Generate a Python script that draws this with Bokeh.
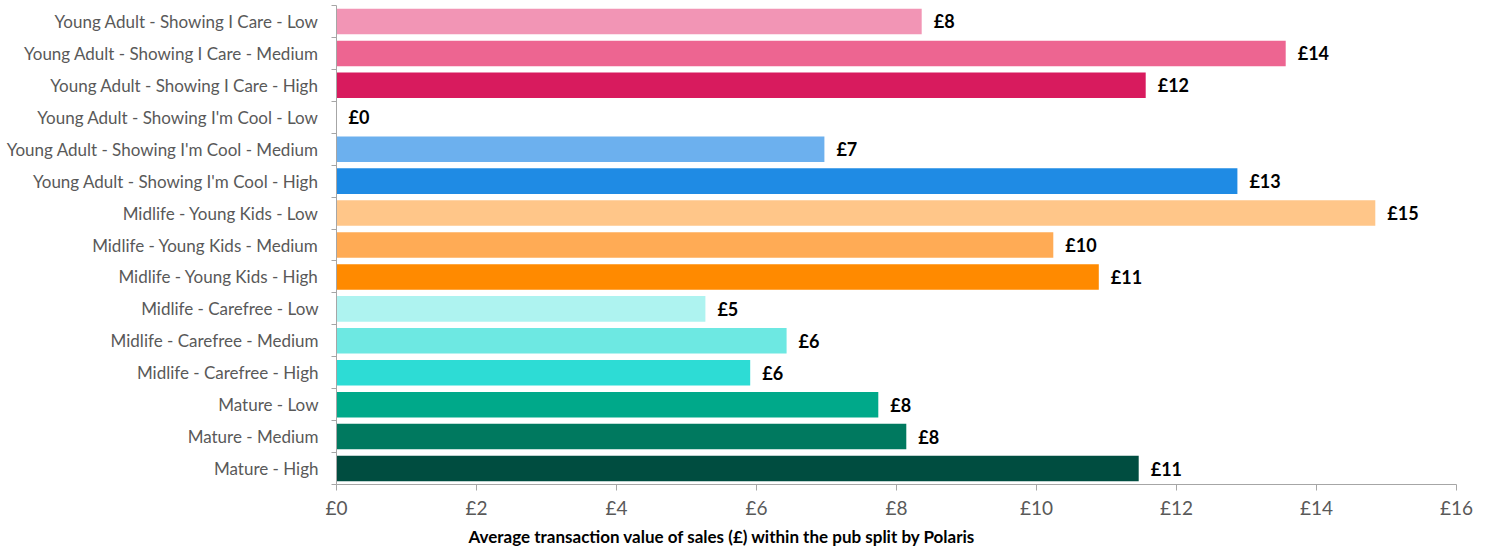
from bokeh.plotting import figure
from bokeh.models import ColumnDataSource, Range1d, FixedTicker, LabelSet, Title
from bokeh.core.properties import value
from bokeh.embed import file_html
from bokeh.resources import INLINE

categories = [
    "Young Adult - Showing I Care - Low",
    "Young Adult - Showing I Care - Medium",
    "Young Adult - Showing I Care - High",
    "Young Adult - Showing I'm Cool - Low",
    "Young Adult - Showing I'm Cool - Medium",
    "Young Adult - Showing I'm Cool - High",
    "Midlife - Young Kids - Low",
    "Midlife - Young Kids - Medium",
    "Midlife - Young Kids - High",
    "Midlife - Carefree - Low",
    "Midlife - Carefree - Medium",
    "Midlife - Carefree - High",
    "Mature - Low",
    "Mature - Medium",
    "Mature - High",
]
values = [8.36, 13.56, 11.56, 0.0, 6.97, 12.87, 14.84, 10.24, 10.89,
          5.27, 6.43, 5.91, 7.74, 8.14, 11.46]
value_labels = ["£8", "£14", "£12", "£0", "£7", "£13", "£15", "£10", "£11",
                "£5", "£6", "£6", "£8", "£8", "£11"]
colors = ["#F295B5", "#ED6591", "#D81B5E", "#A9D0F5", "#6CB0EE", "#1F8BE4",
          "#FFC689", "#FFAB55", "#FF8A00", "#AEF3F0", "#6DE8E2", "#2DDCD5",
          "#00A98A", "#00795F", "#004D40"]
x_ticks = [0, 2, 4, 6, 8, 10, 12, 14, 16]
x_title = "Average transaction value of sales (£) within the pub split by Polaris"

n = len(categories)
ypos = [n - 1 - i for i in range(n)]

src = ColumnDataSource(dict(y=ypos, v=values, c=colors, lab=value_labels))

FONT = "Lato"

p = figure(width=1482, height=548, output_backend="svg", toolbar_location=None,
           x_range=Range1d(0, 16), y_range=Range1d(-0.5, n - 0.5),
           min_border_left=336, min_border_right=26, min_border_top=5,
           min_border_bottom=60)
p.outline_line_color = None
p.xgrid.grid_line_color = None
p.ygrid.grid_line_color = None
p.background_fill_color = "white"
p.border_fill_color = "white"

p.hbar(y="y", right="v", left=0, height=0.8, fill_color="c", line_color=None, source=src)

labels = LabelSet(x="v", y="y", text="lab", source=src, x_offset=12,
                  text_align="left", text_baseline="middle",
                  text_font=value(FONT), text_font_size="18px", text_font_style="bold",
                  text_color="black")
p.add_layout(labels)

# x axis
p.xaxis.ticker = FixedTicker(ticks=x_ticks)
p.xaxis.major_label_overrides = {t: f"£{t}" for t in x_ticks}
p.xaxis.axis_line_color = "#A6A6A6"
p.xaxis.major_tick_line_color = "#A6A6A6"
p.xaxis.major_tick_out = 6
p.xaxis.major_tick_in = 0
p.xaxis.minor_tick_line_color = None
p.xaxis.major_label_text_font = FONT
p.xaxis.major_label_text_font_size = "19px"
p.xaxis.major_label_text_color = "#595959"
p.xaxis.major_label_standoff = 5

xt = Title(text=x_title, align="left", offset=132, standoff=4,
           text_font=FONT, text_font_size="17px", text_font_style="bold",
           text_color="black")
p.add_layout(xt, "below")

# y axis
boundaries = [i - 0.5 for i in range(n + 1)]
p.yaxis.ticker = FixedTicker(ticks=ypos, minor_ticks=boundaries)
p.yaxis.major_label_overrides = {y: c for y, c in zip(ypos, categories)}
p.yaxis.axis_line_color = "#A6A6A6"
p.yaxis.major_tick_line_color = None
p.yaxis.major_tick_out = 0
p.yaxis.major_tick_in = 0
p.yaxis.minor_tick_line_color = "#A6A6A6"
p.yaxis.minor_tick_out = 5
p.yaxis.minor_tick_in = 0
p.yaxis.major_label_text_font = FONT
p.yaxis.major_label_text_font_size = "17px"
p.yaxis.major_label_text_color = "#595959"
p.yaxis.major_label_standoff = 13

open("out.html", "w").write(file_html(p, INLINE))
